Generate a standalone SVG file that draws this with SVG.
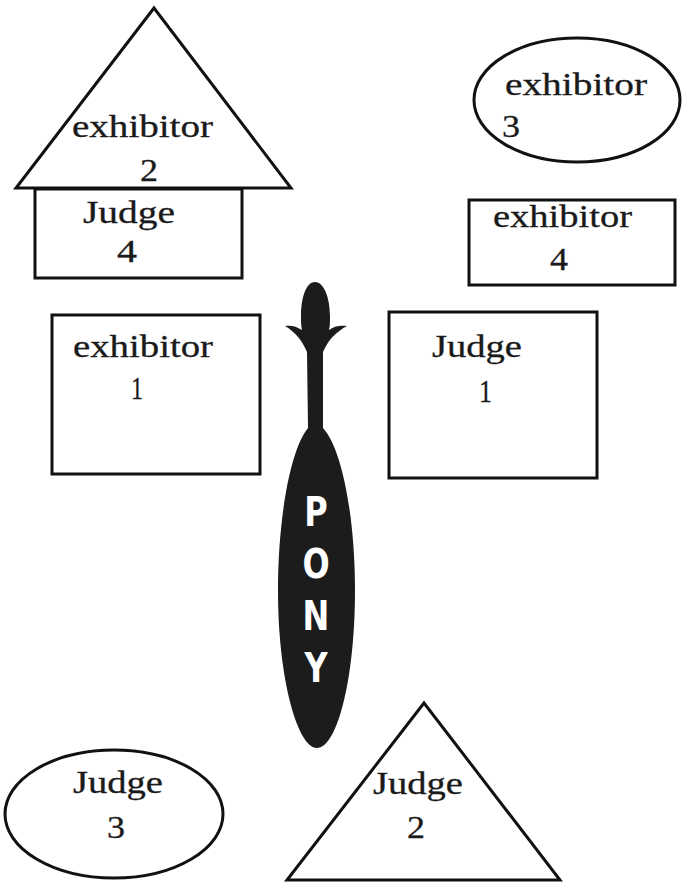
<svg xmlns="http://www.w3.org/2000/svg" width="682" height="884" viewBox="0 0 682 884">
<style>
.shape{fill:#fff;stroke:#111;stroke-width:3}
.lbl{font-family:"Liberation Serif","Times New Roman",serif;font-size:31px;fill:#1a1a1a;stroke:#1a1a1a;stroke-width:0.3}
.pony{font-family:"DejaVu Sans","Liberation Sans",sans-serif;font-weight:bold;font-size:40px;fill:#fff;text-anchor:middle}
</style>
<rect width="682" height="884" fill="#fff"/>
<g id="connectors"></g>
<g id="exhibitor2">
<polygon class="shape" points="154,8 16,188 291,188"/>
<text class="lbl" x="72" y="137" textLength="141" lengthAdjust="spacingAndGlyphs">exhibitor</text>
<text class="lbl" x="140" y="181" textLength="18" lengthAdjust="spacingAndGlyphs">2</text>
</g>
<g id="judge4">
<rect class="shape" x="35" y="189" width="207" height="89"/>
<text class="lbl" x="83" y="223" textLength="92" lengthAdjust="spacingAndGlyphs">Judge</text>
<text class="lbl" x="117" y="262" textLength="20" lengthAdjust="spacingAndGlyphs">4</text>
</g>
<g id="exhibitor3">
<ellipse class="shape" cx="577" cy="100" rx="103" ry="62"/>
<text class="lbl" x="505" y="95" textLength="142" lengthAdjust="spacingAndGlyphs">exhibitor</text>
<text class="lbl" x="502" y="137" textLength="18" lengthAdjust="spacingAndGlyphs">3</text>
</g>
<g id="exhibitor4">
<rect class="shape" x="469" y="200" width="206" height="85"/>
<text class="lbl" x="493" y="227" textLength="139" lengthAdjust="spacingAndGlyphs">exhibitor</text>
<text class="lbl" x="550" y="270" textLength="18" lengthAdjust="spacingAndGlyphs">4</text>
</g>
<g id="exhibitor1">
<rect class="shape" x="52" y="315" width="208" height="159"/>
<text class="lbl" x="73" y="357" textLength="140" lengthAdjust="spacingAndGlyphs">exhibitor</text>
<text class="lbl" x="131" y="399" textLength="12" lengthAdjust="spacingAndGlyphs">1</text>
</g>
<g id="judge1">
<rect class="shape" x="389" y="312" width="208" height="166"/>
<text class="lbl" x="432" y="357" textLength="90" lengthAdjust="spacingAndGlyphs">Judge</text>
<text class="lbl" x="479" y="402" textLength="13" lengthAdjust="spacingAndGlyphs">1</text>
</g>
<g id="pony">
<path fill="#1c1c1c" d="M315,282 C306,282 301,298 301,316 C301,322 301,326 302,330 C296,326 291,325 285,326 C295,332 302,340 307,352 L308,428 C290,450 278,520 278,590 C278,680 298,748 317,748 C337,748 355,680 355,590 C355,520 343,450 323,428 L323,352 C328,340 336,332 347,326 C340,325 334,326 329,330 C330,326 330,322 330,316 C330,298 324,282 315,282 Z"/>
<g transform="translate(316,0) scale(0.8,1)">
<text class="pony" x="0" y="526">P</text>
<text class="pony" x="0" y="578">O</text>
<text class="pony" x="0" y="630">N</text>
<text class="pony" x="0" y="682">Y</text>
</g>
</g>
<g id="judge3">
<ellipse class="shape" cx="114" cy="814" rx="109" ry="64"/>
<text class="lbl" x="73" y="793" textLength="90" lengthAdjust="spacingAndGlyphs">Judge</text>
<text class="lbl" x="107" y="838" textLength="18" lengthAdjust="spacingAndGlyphs">3</text>
</g>
<g id="judge2">
<polygon class="shape" points="424,703 287,880 560,880"/>
<text class="lbl" x="373" y="794" textLength="90" lengthAdjust="spacingAndGlyphs">Judge</text>
<text class="lbl" x="407" y="838" textLength="18" lengthAdjust="spacingAndGlyphs">2</text>
</g>
</svg>
